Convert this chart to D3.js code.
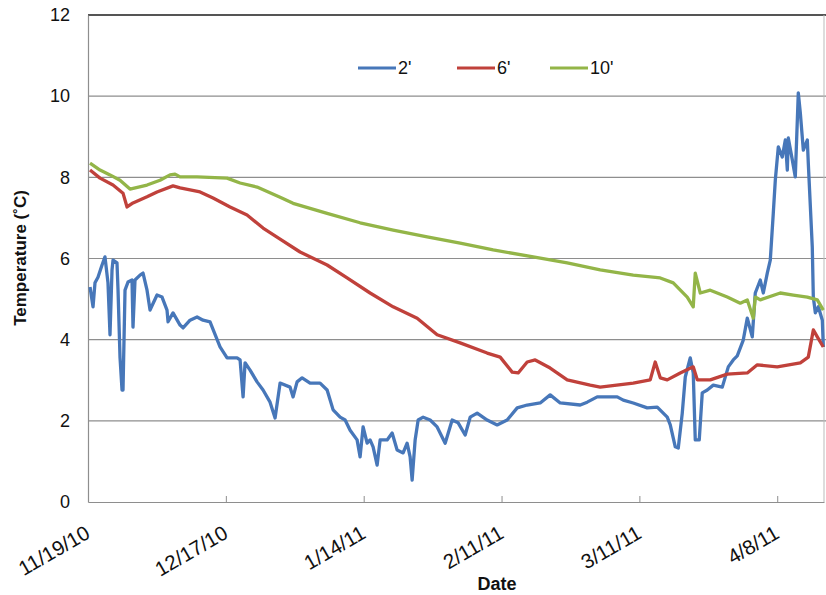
<!DOCTYPE html>
<html><head><meta charset="utf-8">
<script src="https://cdn.jsdelivr.net/npm/d3@7"></script>
<style>body{margin:0;background:#fff}svg{display:block}text{font-family:"Liberation Sans",Arial,sans-serif}</style>
</head><body><svg id="c" width="826" height="595"></svg>
<script>
// day offsets from 11/19/2010 and temperature (°C)
const temp10 = [[0.41,8.35],[2.44,8.18],[4.47,8.06],[6.5,7.93],[8.53,7.71],[11.99,7.81],[14.63,7.93],[16.66,8.06],[17.68,8.08],[18.7,8.01],[22.15,8.01],[28.25,7.98],[30.89,7.86],[34.34,7.76],[39.02,7.51],[41.66,7.36],[48.57,7.11],[55.27,6.88],[61.98,6.7],[68.89,6.53],[75.59,6.38],[82.3,6.21],[90.43,6.04],[97.34,5.89],[104.04,5.72],[110.75,5.59],[116.24,5.52],[118.88,5.4],[121.72,5.05],[122.94,4.81],[123.35,5.64],[124.37,5.15],[126.4,5.22],[129.85,5.05],[132.49,4.9],[133.92,4.98],[135.14,4.53],[135.54,5.05],[136.56,4.98],[140.62,5.15],[143.26,5.1],[146.11,5.05],[148.14,4.98],[149.36,4.73]];
const temp6 = [[0.41,8.18],[2.44,7.98],[5.08,7.81],[7.11,7.61],[7.93,7.27],[9.14,7.37],[11.99,7.52],[14.02,7.64],[17.27,7.79],[18.7,7.74],[22.76,7.64],[25.4,7.49],[28.86,7.27],[32.31,7.07],[35.56,6.75],[39.02,6.48],[43.08,6.16],[48.57,5.84],[52.63,5.52],[57.3,5.15],[61.98,4.81],[66.86,4.53],[70.92,4.12],[75.59,3.92],[81.08,3.67],[83.72,3.57],[86.16,3.2],[87.38,3.18],[89.21,3.45],[90.84,3.5],[93.88,3.3],[97.34,3.01],[102.01,2.88],[104.04,2.83],[110.75,2.93],[114.2,3.01],[115.22,3.45],[116.24,3.06],[117.66,3.01],[120.3,3.18],[122.94,3.33],[123.76,3.01],[126.4,3.01],[129.85,3.15],[133.92,3.18],[135.95,3.38],[140.01,3.33],[144.69,3.43],[146.31,3.57],[147.33,4.24],[148.14,4.07],[149.36,3.82]];
const temp2 = [[0.41,5.3],[1.02,4.81],[1.42,5.4],[2.03,5.54],[2.85,5.84],[3.45,6.04],[4.06,5.4],[4.47,4.12],[4.88,5.72],[5.08,5.96],[5.89,5.89],[6.1,5.22],[6.5,3.57],[6.91,2.76],[7.11,2.76],[7.52,5.22],[8.13,5.42],[8.94,5.47],[9.14,4.31],[9.55,5.47],[10.57,5.59],[11.18,5.64],[11.99,5.22],[12.6,4.73],[14.02,5.1],[15.04,5.05],[16.05,4.73],[16.26,4.44],[17.27,4.66],[18.7,4.36],[19.31,4.29],[20.73,4.48],[22.15,4.56],[23.37,4.48],[24.79,4.44],[26.82,3.82],[28.25,3.55],[30.28,3.55],[30.89,3.5],[31.5,2.59],[31.9,3.43],[32.92,3.25],[34.34,2.96],[35.56,2.76],[36.98,2.46],[38.0,2.07],[39.02,2.93],[41.05,2.83],[41.66,2.59],[42.47,2.96],[43.49,3.06],[45.11,2.93],[47.14,2.93],[48.57,2.76],[49.79,2.27],[51.21,2.09],[52.23,2.02],[53.24,1.77],[54.66,1.53],[55.27,1.11],[55.88,1.85],[56.7,1.45],[57.3,1.53],[57.91,1.36],[58.73,0.91],[59.34,1.53],[60.76,1.53],[61.78,1.7],[62.79,1.28],[64.01,1.21],[64.82,1.45],[65.43,1.11],[65.84,0.54],[66.45,1.53],[67.06,2.02],[68.08,2.09],[69.5,2.02],[70.92,1.85],[72.55,1.45],[73.97,2.02],[75.19,1.95],[76.61,1.65],[77.63,2.09],[79.05,2.19],[81.08,2.02],[83.11,1.9],[85.14,2.02],[87.18,2.32],[89.21,2.39],[91.85,2.44],[93.88,2.64],[95.92,2.44],[99.98,2.39],[101.4,2.46],[103.43,2.59],[107.5,2.59],[108.72,2.51],[110.75,2.44],[113.59,2.32],[115.63,2.34],[117.66,2.09],[118.27,1.9],[119.29,1.36],[119.9,1.33],[120.71,2.19],[121.32,3.08],[122.33,3.55],[122.94,3.18],[123.35,1.53],[124.16,1.53],[124.77,2.69],[125.79,2.76],[127.01,2.88],[128.84,2.83],[130.06,3.33],[131.07,3.5],[131.88,3.6],[133.1,3.99],[133.92,4.53],[134.93,4.07],[135.54,5.15],[136.56,5.47],[137.17,5.15],[137.98,5.64],[138.59,5.96],[139.2,7.12],[139.61,7.93],[140.22,8.75],[141.03,8.5],[141.64,8.92],[142.05,8.18],[142.25,8.97],[143.06,8.43],[143.67,8.01],[144.28,10.08],[144.69,9.59],[145.3,8.67],[146.11,8.92],[146.31,8.35],[147.12,6.28],[147.33,5.05],[147.74,4.66],[148.35,4.81],[149.16,4.48],[149.36,3.82]];
const seriesNames = ["2'", "6'", "10'"];
const seriesColors = ["#4777b9", "#c0413b", "#93b548"];
const xTickLabels = ["11/19/10", "12/17/10", "1/14/11", "2/11/11", "3/11/11", "4/8/11"];
const yTicks = [0, 2, 4, 6, 8, 10, 12];

const start = new Date(2010, 10, 19);
const dayMs = 864e5;
const toDate = d => new Date(start.getTime() + d * dayMs);
const parse = d3.timeParse("%m/%d/%y");

const svg = d3.select("#c");
const L = 88, T = 15, R = 824, B = 502;
const x = d3.scaleTime().domain([start, toDate(149.5)]).range([L, R]);
const y = d3.scaleLinear().domain([0, 12]).range([B, T]);

// gridlines
svg.append("g").selectAll("line").data(yTicks.filter(v => v > 0 && v < 12)).join("line")
  .attr("x1", L).attr("x2", 826).attr("y1", d => y(d)).attr("y2", d => y(d))
  .attr("stroke", "#8e8e8e").attr("stroke-width", 1.2);
svg.append("line").attr("x1", L).attr("x2", 826).attr("y1", y(12)).attr("y2", y(12))
  .attr("stroke", "#555").attr("stroke-width", 2);

// y axis
const yAxis = svg.append("g").attr("transform", `translate(${L},0)`)
  .call(d3.axisLeft(y).tickValues(yTicks).tickSize(0).tickPadding(18));
yAxis.select(".domain").attr("stroke", "#8e8e8e").attr("stroke-width", 1.2);
yAxis.selectAll("text").attr("font-size", 18).attr("fill", "#111");

// x axis
const tickDates = xTickLabels.map(parse);
const xAxis = svg.append("g").attr("transform", `translate(0,${B})`)
  .call(d3.axisBottom(x).tickValues(tickDates).tickSizeInner(-6).tickSizeOuter(0).tickFormat((d, i) => xTickLabels[i]));
xAxis.select(".domain").attr("stroke", "#8e8e8e").attr("stroke-width", 1.2);
xAxis.selectAll("line").attr("stroke", "#8e8e8e");
xAxis.selectAll("text").attr("font-size", 20.5).attr("fill", "#111")
  .attr("text-anchor", "end").attr("dy", 0).attr("y", 0).attr("transform", "translate(3,35) rotate(-30)");
svg.append("line").attr("x1", R).attr("x2", R).attr("y1", T).attr("y2", B)
  .attr("stroke", "#bbb").attr("stroke-width", 1);

// lines
const line = d3.line().x(d => x(toDate(d[0]))).y(d => y(d[1]));
[temp2, temp6, temp10].forEach((s, i) => {
  svg.append("path").datum(s).attr("d", line).attr("fill", "none")
    .attr("stroke", seriesColors[i]).attr("stroke-width", 3.3).attr("stroke-linejoin", "round");
});

// legend
const legX = [358, 457, 550];
seriesNames.forEach((n, i) => {
  svg.append("line").attr("x1", legX[i]).attr("x2", legX[i] + 38).attr("y1", 68).attr("y2", 68)
    .attr("stroke", seriesColors[i]).attr("stroke-width", 3);
  svg.append("text").attr("x", legX[i] + 40).attr("y", 74).attr("font-size", 18).attr("fill", "#111").text(n);
});

// axis titles
svg.append("text").attr("x", 497).attr("y", 590).attr("text-anchor", "middle")
  .attr("font-size", 18).attr("font-weight", "bold").attr("fill", "#111").text("Date");
svg.append("text").attr("transform", "translate(26,258) rotate(-90)").attr("text-anchor", "middle")
  .attr("font-size", 17).attr("font-weight", "bold").attr("fill", "#111").text("Temperature (˚C)");
</script></body></html>
